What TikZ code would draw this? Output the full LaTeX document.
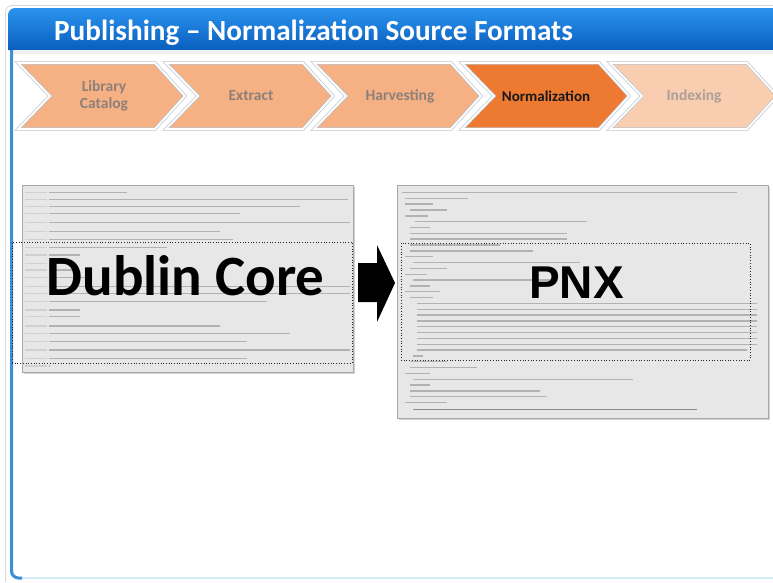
\documentclass[tikz,border=0pt]{standalone}
\usepackage{fontspec}
\setmainfont{Carlito}
\newfontfamily\arialfont{Liberation Sans}
\usetikzlibrary{shadows}
\definecolor{hdrtop}{HTML}{2A93EE}
\definecolor{hdrbot}{HTML}{0A5EBE}
\definecolor{chevA}{HTML}{F5B184}
\definecolor{chevN}{HTML}{EE7A32}
\definecolor{chevI}{HTML}{F9CDB0}
\definecolor{chevline}{HTML}{BCC6D0}
\definecolor{chevtxt}{HTML}{8E8079}
\definecolor{chevtxtI}{HTML}{ABA09A}
\definecolor{shotfill}{HTML}{E7E7E7}
\definecolor{shotline}{HTML}{A8A8A8}
\definecolor{shottag}{HTML}{D0D0D0}
\definecolor{shottxt}{HTML}{B2B2B2}
\definecolor{frameblue}{HTML}{3C8FD9}
\definecolor{framepale}{HTML}{D6EBF8}
\tikzset{
  chevshape/.style={draw=chevline, line width=0.7pt, double=white, double distance=1.8pt, line join=miter},
  chevlbl/.style={font=\bfseries\fontsize{15.5}{16.5}\selectfont, text=chevtxt, align=center, inner sep=0pt},
  shot/.style={fill=shotfill, draw=shotline, line width=0.6pt,
    drop shadow={shadow xshift=1.5pt, shadow yshift=-1.5pt, opacity=0.35}},
  dotbox/.style={draw=black!85, dotted, line width=0.7pt, fill=none, inner sep=0pt},
  tagline/.style={shottag, line width=1.3pt},
  txtline/.style={shottxt, line width=1.3pt},
  bigword/.style={inner sep=0pt, text=black},
}
\begin{document}
\begin{tikzpicture}[x=1pt,y=-1pt]
\useasboundingbox (0,0) rectangle (773,582);
\fill[white] (0,0) rectangle (773,582);
% outer faint frame
\draw[black!15, line width=0.8pt] (5.5,582) -- (5.5,12) to[out=90,in=180] (12,5.5) -- (773,5.5);
% header bar
\shade[top color=hdrtop, bottom color=hdrbot] (8,50) {[rounded corners=7] -- (8,8) -- (790,8)} -- (790,50) -- cycle;
\fill[black!6] (12,50) rectangle (773,54);
% content frame
\draw[framepale, line width=2pt] (20,578) -- (773,578);
\draw[frameblue, line width=3pt, rounded corners=7] (11.5,50) -- (11.5,578) -- (22,578);
% title
\node[anchor=base west, text=white, inner sep=0pt, font=\bfseries\fontsize{29.2}{31}\selectfont] (title) at (54,40) {Publishing – Normalization Source Formats};
% chevrons
\foreach \L/\col in {18/chevA,166/chevA,314/chevA,462/chevN,610/chevI}{
  \draw[chevshape, fill=\col] (\L,63) -- (\L+137,63) -- (\L+167,96) -- (\L+137,129) -- (\L,129) -- (\L+32,96) -- cycle;
}
\node[chevlbl] (lib) at (104,96) {Library\\Catalog};
\node[chevlbl] (ext) at (251,96) {Extract};
\node[chevlbl] (har) at (400,96) {Harvesting};
\node[chevlbl, text=black!90, font=\bfseries\fontsize{15}{16}\selectfont] (nor) at (546,96) {Normalization};
\node[chevlbl, text=chevtxtI] (idx) at (694,96) {Indexing};
% left screenshot
\draw[shot] (22,185) rectangle (353,372);
\foreach \zy/\ze in {68/380,88/1045,110/900,130/720,158/1050,185/660,208/700,232/500,255/240,280/210,300/230,322/260,350/1050,370/1050,395/800,420/240,440/240,468/660,490/870,515/740,540/1050,565/740,588/150}{
  \draw[tagline] (25,170+\zy/3) -- (47,170+\zy/3);
  \draw[txtline] (49,170+\zy/3) -- (\ze/3,170+\zy/3);
}
% right screenshot
\draw[shot] (397,185) rectangle (768,418);
\foreach \zy/\zs/\ze in {68/65/1070,85/75/265,102/75/160,120/90/200,138/75/145,155/105/620,172/90/150,190/90/560,207/90/560,225/90/360,243/90/460,260/75/160,278/100/600,295/90/200,313/75/140,330/100/520,348/90/150,365/75/180,383/90/160,400/110/1130,418/110/1130,435/110/1130,453/110/1130,470/110/1130,488/110/1130,505/110/1130,523/110/1130,540/110/1100,558/100/130,575/90/200,593/90/290,610/75/150,628/100/760,645/90/150,663/90/480,680/90/500,698/75/200}{
  \draw[txtline, line width=1.1pt] (380+\zs/3,170+\zy/3) -- (380+\ze/3,170+\zy/3);
}
\draw[black!45, line width=1.2pt] (380+100/3,170+718/3) -- (380+950/3,170+718/3);
% dotted frames
\node[dotbox, minimum width=340pt, minimum height=121pt] (dcbox) at (182,302.5) {};
\node[dotbox, minimum width=349pt, minimum height=117pt] (pnxbox) at (575.5,301.5) {};
% big words
\node[bigword, anchor=base, font=\bfseries\fontsize{57}{60}\selectfont] (dc) at (185.5,295) {Dublin Core};
\node[bigword, anchor=base, font=\arialfont\bfseries\fontsize{46}{50}\selectfont] (pnx) at (576.5,298) {PNX};
% block arrow
\fill[black] (358,263) -- (377,263) -- (377,245) -- (395,283) -- (377,322) -- (377,302) -- (358,302) -- cycle;
\end{tikzpicture}
\end{document}
